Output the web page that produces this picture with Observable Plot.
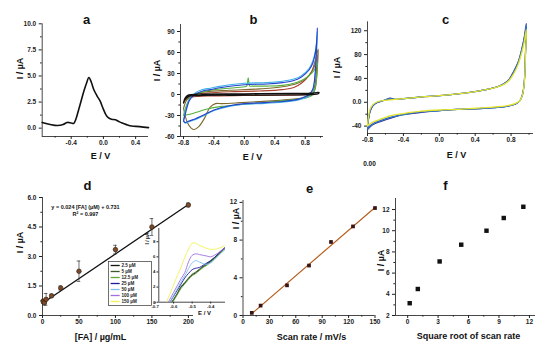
<!DOCTYPE html>
<html><head><meta charset="utf-8">
<script src="https://cdn.jsdelivr.net/npm/d3@7"></script>
<script src="https://cdn.jsdelivr.net/npm/@observablehq/plot@0.6"></script>
<style>
html,body{margin:0;padding:0;background:#fff;}
#wrap{position:relative;width:550px;height:351px;overflow:hidden;background:#fff;}
#wrap svg{position:absolute;left:0;top:0;}
</style></head>
<body><div id="wrap"></div>
<script>
// ---------- Panel a : DPV-like peak ----------
const aE = [-0.76,-0.66,-0.57,-0.50,-0.45,-0.40,-0.37,-0.34,-0.31,-0.27,-0.24,-0.21,-0.18,-0.15,-0.12,-0.08,-0.04,-0.01,0.03,0.06,0.10,0.15,0.20,0.25,0.30,0.35,0.45,0.56];
const aI = [0.55,0.35,0.25,0.35,0.55,0.5,0.45,0.9,1.7,2.8,3.6,4.3,4.85,4.4,3.7,3.1,2.6,2.0,1.3,1.0,0.85,0.8,0.6,0.45,0.3,0.2,0.15,0.05];

// ---------- Panel b : CV loops ----------
const bBlackE = [-0.8,-0.78,-0.74,-0.6,0,0.6,0.9,0.98, 0.97,0.9,0.6,0,-0.6,-0.74,-0.78,-0.8];
const bBlackI = [-12,-5,-1,0.5,1,1.5,2,3, 1,0,-0.5,-1,-1.5,-3,-7,-12];
const bRedE = [-0.8,-0.75,-0.65,-0.5,-0.2,0.2,0.5,0.65,0.75,0.85,0.92,0.96, 0.95,0.92,0.88,0.8,0.5,0,-0.4,-0.7,-0.78,-0.8];
const bRedI = [-12,-4,0,2,4,5,7,10,16,27,40,57, 40,10,3,0,-1,-1.5,-2,-4,-8,-12];
const bGreenE = [-0.8,-0.76,-0.7,-0.6,-0.5,-0.3,0,0.03,0.05,0.07,0.1,0.3,0.5,0.65,0.75,0.85,0.92,0.96, 0.95,0.92,0.88,0.8,0.6,0.3,0,-0.3,-0.5,-0.65,-0.75,-0.8];
const bGreenI = [-30,-15,-3,2,5,8,11,12,24,12,12,12,13,16,20,27,35,45, 25,5,-2,-5,-8,-11,-14,-17,-21,-26,-29,-30];
const bOliveE = [-0.8,-0.76,-0.7,-0.6,-0.5,-0.2,0.2,0.5,0.7,0.8,0.88,0.93,0.97, 0.96,0.93,0.9,0.8,0.5,0.2,-0.1,-0.3,-0.38,-0.45,-0.52,-0.6,-0.66,-0.7,-0.75,-0.8];
const bOliveI = [-20,-8,-2,2,4,6,8,11,16,22,32,48,65, 40,8,2,-4,-8,-10,-12,-13,-13,-18,-33,-46,-50,-48,-40,-20];
const bCyanE = [-0.8,-0.77,-0.72,-0.65,-0.55,-0.45,-0.3,0,0.3,0.5,0.65,0.75,0.85,0.9,0.94,0.96, 0.95,0.93,0.9,0.85,0.8,0.7,0.5,0.2,0,-0.2,-0.4,-0.55,-0.65,-0.73,-0.78,-0.8];
const bCyanI = [-36,-22,-6,2,7,9,12,16,17,19,22,27,37,48,66,90, 66,27,6,-2,-5,-8,-11,-13,-14,-17,-23,-31,-36,-39,-41,-36];
const bBlueE = [-0.8,-0.77,-0.72,-0.65,-0.55,-0.45,-0.3,0,0.3,0.5,0.65,0.75,0.85,0.9,0.94,0.96, 0.95,0.93,0.9,0.85,0.8,0.7,0.5,0.2,0,-0.2,-0.4,-0.55,-0.65,-0.73,-0.78,-0.8];
const bBlueI = [-38,-25,-8,0,5,7,10,14,15,17,20,25,35,45,65,95, 70,30,8,0,-3,-7,-10,-12,-13,-16,-22,-30,-35,-38,-40,-38];

// ---------- Panel c : overlapping CVs ----------
const cE = [-0.8,-0.79,-0.77,-0.74,-0.7,-0.62,-0.55,-0.5,-0.4,-0.2,0,0.2,0.4,0.55,0.65,0.72,0.78,0.83,0.88,0.92,0.95,0.97, 0.96,0.95,0.93,0.9,0.85,0.75,0.6,0.4,0.2,0,-0.2,-0.4,-0.55,-0.65,-0.72,-0.77,-0.8];
const cNavyI = [-46,-30,-15,-6,-1,3,7,5,6,9,11,14,18,22,26,31,39,52,68,90,112,132, 80,40,15,3,-3,-7,-9,-11,-12,-14,-17,-21,-27,-32,-36,-41,-46];
const cTealI = [-45,-29,-14,-5,-1,3,6,5,6,9,11,14,18,22,26,31,38,51,67,88,110,129, 79,39,14,3,-3,-7,-9,-11,-12,-14,-16,-21,-26,-31,-35,-40,-45];
const cBlueI = [-44,-29,-14,-5,-1,3,5,5,6,9,11,14,18,22,26,31,38,50,66,87,108,127, 78,39,14,3,-3,-7,-9,-11,-12,-14,-16,-20,-25,-30,-34,-39,-44];
const cYellowI = [-40,-25,-11,-4,0,3,4,5,6,9,11,14,18,22,26,30,37,48,64,84,104,122, 76,38,14,3,-2,-6,-8,-10,-12,-13,-15,-19,-23,-28,-32,-36,-40];

// ---------- Panel d : calibration ----------
const dX = [1, 2.5, 5, 12.5, 25, 50, 100, 150, 200];
const dY = [0.72, 0.65, 0.82, 1.0, 1.4, 2.25, 3.35, 4.5, 5.62];
const dErr = [0.1, 0.12, 0.3, 0.08, 0.1, 0.52, 0.22, 0.43, 0.1];
const dFitX = [0, 200];
const dFitY = [0.62, 5.64];
const dEquation = "y = 0.024 [FA] (µM) + 0.731";
const dR2 = "R² = 0.997";
// inset
const insetE = [-0.66,-0.64,-0.62,-0.6,-0.58,-0.56,-0.54,-0.52,-0.5,-0.48,-0.46,-0.44,-0.42,-0.4,-0.38,-0.36,-0.34,-0.32];
const legendLabels = ["2.5 µM","5 µM","12.5 µM","25 µM","50 µM","100 µM","150 µM"];
const legendColors = ["#111111","#3d5a2a","#5fa832","#1c1ca0","#7fc0f5","#a070e0","#f2f25a"];
const inset25 = [-1.8,-1.1,-0.4,0.3,1.1,2.0,2.5,3.1,3.6,3.9,4.3,4.7,5.0,5.4,5.8,6.3,6.7,7.2];
const inset5 = [-1.7,-1.0,-0.3,0.4,1.2,2.1,2.6,3.2,3.7,4.0,4.4,4.8,5.1,5.5,5.9,6.3,6.8,7.2];
const inset125 = [-1.9,-1.2,-0.5,0.2,1.0,1.8,2.4,3.0,3.5,3.8,4.2,4.6,4.9,5.3,5.7,6.2,6.7,7.1];
const inset25uM = [-1.5,-0.8,0,0.8,1.6,2.4,3.2,3.8,4.3,4.5,4.6,4.9,5.2,5.5,5.9,6.4,6.9,7.3];
const inset50 = [-1.5,-0.8,0,0.9,1.8,2.7,3.5,4.4,5.2,5.5,5.3,5.1,5.0,5.2,5.6,6.1,6.6,7.0];
const inset100 = [-1.3,-0.5,0.4,1.3,2.2,3.1,3.9,5.3,6.2,6.4,6.3,6.2,6.1,6.0,6.2,6.5,6.9,7.2];
const inset150 = [-0.7,0,1.1,2.3,3.5,4.6,5.9,7.0,7.8,7.8,7.5,7.3,7.1,7.0,7.0,7.1,7.3,7.5];
const insetSeries = [inset25, inset5, inset125, inset25uM, inset50, inset100, inset150];

// ---------- Panel e : scan rate ----------
const eX = [10, 20, 50, 75, 100, 125, 150];
const eY = [0.28, 1.05, 3.2, 5.3, 7.8, 9.45, 11.4];
const eFitX = [10, 150];
const eFitY = [0.2, 11.45];

// ---------- Panel f : sqrt scan rate ----------
const fX = [0.2, 1.0, 3.15, 5.28, 7.77, 9.47, 11.4];
const fY = [3.16, 4.5, 7.1, 8.68, 10.0, 11.2, 12.26];

// ---------- helper ----------
const FONT = "'Liberation Sans', Arial, Helvetica, sans-serif";
const W = 550, H = 351;
const wrap = document.getElementById("wrap");
const f1 = d => d.toFixed(1);

function panel(p) {
  const [x0, x1, y0, y1] = p.frame;
  const fs = p.tickFont || 6.5;
  const ts = p.tickSize || 3;
  const marks = [];
  if (p.axes !== false) {
    marks.push(Plot.ruleX([p.xDomain[0]], {stroke: "#333", strokeWidth: 0.9}));
    marks.push(Plot.ruleY([p.yDomain[0]], {stroke: "#333", strokeWidth: 0.9}));
    marks.push(Plot.axisX({ticks: p.xTicks, tickFormat: p.xFmt, tickSize: ts, tickPadding: 1.2, fontSize: fs, fontWeight: "bold", label: null, anchor: "bottom"}));
    marks.push(Plot.axisY({ticks: p.yTicks, tickFormat: p.yFmt, tickSize: ts, tickPadding: p.yPad || 3, fontSize: fs, fontWeight: "bold", label: null, anchor: "left"}));
    if (p.xMinor) marks.push(Plot.axisX({ticks: p.xMinor, tickFormat: () => "", tickSize: ts * 0.55, label: null, anchor: "bottom"}));
    if (p.yMinor) marks.push(Plot.axisY({ticks: p.yMinor, tickFormat: () => "", tickSize: ts * 0.55, label: null, anchor: "left"}));
  }
  marks.push(...(p.marks || []));
  for (const t of (p.texts || [])) {
    marks.push(Plot.text([t.s], {text: d => d, frameAnchor: "top-left", dx: t.x - x0, dy: t.y - y0,
      rotate: t.r || 0, fontSize: t.size, fontWeight: t.w || "bold", textAnchor: t.anchor || "middle",
      lineAnchor: "middle", fill: "#111", fontFamily: FONT}));
  }
  const xOpt = {domain: p.xDomain, type: p.xType || "linear"};
  const yOpt = {domain: p.yDomain, type: p.yType || "linear"};
  if (p.axes === false) { xOpt.axis = null; yOpt.axis = null; }
  const svg = Plot.plot({
    width: W, height: H,
    marginLeft: x0, marginRight: W - x1, marginTop: y0, marginBottom: H - y1,
    x: xOpt, y: yOpt,
    style: {fontFamily: FONT, fontSize: fs + "px", color: "#222", background: "transparent", overflow: "visible"},
    marks
  });
  svg.style.position = "absolute"; svg.style.left = "0"; svg.style.top = "0";
  wrap.appendChild(svg);
}

const curve = "catmull-rom";
const cv = (E, I, color, w) => Plot.line(E, {x: E, y: I, stroke: color, strokeWidth: w || 1.1, curve});

// a
panel({
  frame: [41.7, 148, 23.3, 136], xDomain: [-0.76, 0.56], yDomain: [-0.8, 10],
  xTicks: [-0.4, 0, 0.4], xMinor: [-0.6, -0.2, 0.2], xFmt: f1,
  yTicks: [0, 2.5, 5, 7.5, 10], yMinor: [1.25, 3.75, 6.25, 8.75], yFmt: f1,
  marks: [cv(aE, aI, "#111", 1.6)],
  texts: [{s: "a", x: 86, y: 19.5, size: 13}, {s: "I / µA", x: 20, y: 68, r: -90, size: 9}, {s: "E / V", x: 100, y: 156, size: 9}]
});

// b
panel({
  frame: [180, 323, 24, 136], xDomain: [-0.84, 1.04], yDomain: [-60, 100],
  xTicks: [-0.8, -0.4, 0, 0.4, 0.8], xMinor: [-0.6, -0.2, 0.2, 0.6, 1.0], xFmt: f1,
  yTicks: [-60, -30, 0, 30, 60, 90], yMinor: [-45, -15, 15, 45, 75], yFmt: d => String(d),
  marks: [
    cv(bRedE, bRedI, "#a8402e"), cv(bOliveE, bOliveI, "#7e6a2c"), cv(bGreenE, bGreenI, "#55b03c"),
    cv(bCyanE, bCyanI, "#3fb0ea"), cv(bBlueE, bBlueI, "#2444cc"), cv(bBlackE, bBlackI, "#111", 1.3)
  ],
  texts: [{s: "b", x: 253, y: 19.5, size: 13}, {s: "I / µA", x: 157, y: 70, r: -90, size: 9}, {s: "E / V", x: 252, y: 156.5, size: 9}]
});

// c
panel({
  frame: [367, 533, 21.3, 133], xDomain: [-0.8, 1.05], yDomain: [-52.4, 135],
  xTicks: [-0.8, -0.4, 0, 0.4, 0.8], xMinor: [-0.6, -0.2, 0.2, 0.6, 1.0], xFmt: f1,
  yTicks: [-40, 0, 40, 80, 120], yMinor: [-20, 20, 60, 100], yFmt: d => d === 0 ? "0.0" : String(d),
  marks: [cv(cE, cNavyI, "#35229a", 1.2), cv(cE, cTealI, "#2f9fb0", 1.1), cv(cE, cBlueI, "#2f62d0", 1.1), cv(cE, cYellowI, "#e4e42c", 1.3)],
  texts: [{s: "c", x: 445, y: 19.5, size: 13}, {s: "I / µA", x: 337, y: 67, r: -90, size: 9}, {s: "E / V", x: 456, y: 155, size: 9},
          {s: "0.00", x: 369, y: 163, size: 6.5}]
});

// d
const dLo = dY.map((v, i) => v - dErr[i]);
const dHi = dY.map((v, i) => v + dErr[i]);
panel({
  frame: [42, 193, 197, 315], xDomain: [0, 207], yDomain: [0, 6],
  xTicks: [0, 50, 100, 150, 200], xMinor: [25, 75, 125, 175], xFmt: d => String(d),
  yTicks: [0, 1.5, 3, 4.5, 6], yMinor: [0.75, 2.25, 3.75, 5.25], yFmt: f1,
  marks: [
    Plot.line(dFitX, {x: dFitX, y: dFitY, stroke: "#111", strokeWidth: 1.3}),
    Plot.ruleX(dX, {x: dX, y1: dLo, y2: dHi, stroke: "#333", strokeWidth: 0.7}),
    Plot.ruleY(dX, {y: dLo, x1: dX, x2: dX, insetLeft: -1.8, insetRight: -1.8, stroke: "#333", strokeWidth: 0.7}),
    Plot.ruleY(dX, {y: dHi, x1: dX, x2: dX, insetLeft: -1.8, insetRight: -1.8, stroke: "#333", strokeWidth: 0.7}),
    Plot.dot(dX, {x: dX, y: dY, r: 2.3, fill: "#7b4a2a", stroke: "#2a1a0a", strokeWidth: 0.6})
  ],
  texts: [{s: "d", x: 87, y: 185, size: 13}, {s: "I / µA", x: 20, y: 242, r: -90, size: 9},
          {s: "[FA] / µg/mL", x: 100, y: 337, size: 9},
          {s: dEquation, x: 85, y: 206.5, size: 5.5}, {s: dR2, x: 85, y: 213.3, size: 5.5}]
});

// d inset
panel({
  frame: [158.3, 225, 228, 301.7], xDomain: [-0.68, -0.32], yDomain: [0, 9.75],
  xTicks: [-0.7, -0.6, -0.5, -0.4], xFmt: f1, yTicks: [0, 2, 4, 6, 8], yFmt: d => String(d),
  tickFont: 4.3, tickSize: 1.8, yPad: 1.5,
  marks: insetSeries.map((s, k) => Plot.line(insetE, {x: insetE, y: s, stroke: legendColors[k], strokeWidth: 0.9, curve, clip: true})),
  texts: [{s: "I / µA", x: 147, y: 238, r: -90, size: 5}, {s: "E / V", x: 204, y: 312.5, size: 6}]
});

// d legend (inside main panel)
panel({
  frame: [108, 151, 261, 305], xDomain: [0, 1], yDomain: legendLabels, yType: "point",
  axes: false,
  marks: [
    Plot.frame({stroke: "#333", strokeWidth: 0.7, fill: "white"}),
    Plot.link(legendLabels, {x1: 0.05, x2: 0.26, y1: legendLabels, y2: legendLabels, stroke: legendColors, strokeWidth: 1.3}),
    Plot.text(legendLabels, {x: 0.3, y: legendLabels, text: d => d, textAnchor: "start", fontSize: 4.6, fontWeight: "bold", fill: "#222"})
  ]
});

// e
panel({
  frame: [242.5, 374.5, 200, 315], xDomain: [0, 150], yDomain: [0, 12.2],
  xTicks: [0, 30, 60, 90, 120, 150], xMinor: [15, 45, 75, 105, 135], xFmt: d => String(d),
  yTicks: [0, 4, 8, 12], yMinor: [2, 6, 10], yFmt: d => String(d),
  marks: [
    Plot.line(eFitX, {x: eFitX, y: eFitY, stroke: "#b5601f", strokeWidth: 1.2}),
    Plot.dot(eX, {x: eX, y: eY, symbol: "square", r: 2.1, fill: "#3a1414"})
  ],
  texts: [{s: "e", x: 309, y: 188, size: 13}, {s: "I / µA", x: 236, y: 218, r: -90, size: 9},
          {s: "Scan rate / mV/s", x: 311, y: 336.7, size: 9}]
});

// f
panel({
  frame: [395, 535, 198, 315], xDomain: [-1.2, 12.6], yDomain: [2, 13.04],
  xTicks: [0, 3, 6, 9, 12], xMinor: [1.5, 4.5, 7.5, 10.5], xFmt: d => String(d),
  yTicks: [2, 4, 6, 8, 10, 12], yMinor: [3, 5, 7, 9, 11], yFmt: d => String(d),
  marks: [Plot.dot(fX, {x: fX, y: fY, symbol: "square", r: 2.5, fill: "#111"})],
  texts: [{s: "f", x: 445, y: 185, size: 13}, {s: "I / µA", x: 381, y: 260, r: -90, size: 9},
          {s: "Square root of scan rate", x: 468, y: 336, size: 9}]
});
</script>
</body></html>
